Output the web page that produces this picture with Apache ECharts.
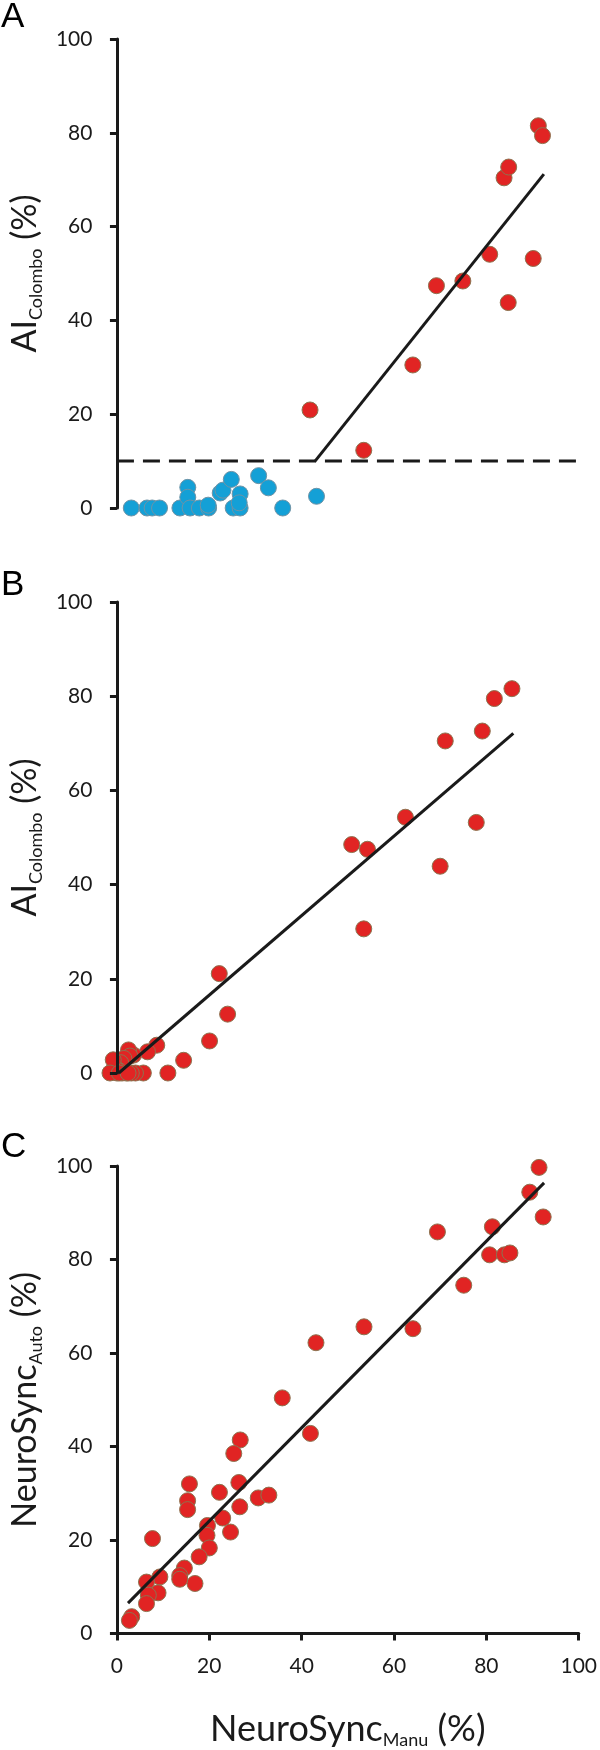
<!DOCTYPE html>
<html>
<head>
<meta charset="utf-8">
<script src="https://cdn.jsdelivr.net/npm/echarts@6/dist/echarts.min.js"></script>
<style>html,body{margin:0;padding:0;background:#fff}#c{width:600px;height:1750px}</style>
</head>
<body>
<div id="c"></div>
<script>
// ---- data ----
const panelLetters = ['A', 'B', 'C'];
const axisTicks = [0, 20, 40, 60, 80, 100];
// Panel A: NeuroSync_Manu (x) vs AI_Colombo (y)
const panelA_low = [[3.1,0],[6.5,0],[7.6,0],[9.2,0],[13.6,0],[15.3,4.4],[15.3,2.3],[15.8,0],[17.8,0],[19.8,0],[19.7,0.6],[22.3,3.2],[22.9,3.8],[24.7,6.1],[25.1,0],[26.6,0],[26.6,3.0],[26.4,1.1],[30.6,6.9],[32.7,4.3],[35.8,0],[43.1,2.5]];
const panelA_high = [[41.7,20.9],[53.3,12.3],[63.9,30.5],[69.0,47.4],[74.7,48.4],[80.5,54.1],[83.6,70.4],[84.6,72.7],[84.5,43.8],[89.9,53.2],[91.0,81.5],[91.9,79.4]];
const panelA_fit = [[42.7,9.9],[92.2,71.2]];
const panelA_threshold = [[0,10],[100,10]];
// Panel B
const panelB = [[85.3,81.6],[81.5,79.5],[78.9,72.6],[70.9,70.5],[62.3,54.3],[77.6,53.2],[50.7,48.5],[54.1,47.5],[69.8,43.9],[53.3,30.6],[22.1,21.1],[23.9,12.5],[20.0,6.8],[14.4,2.7],[11.0,0],[8.6,5.9],[6.6,4.5],[5.7,0],[4.0,0],[3.6,3.8],[2.5,4.9],[2.8,3.6],[3.1,0],[2.0,0],[1.5,3.1],[1.1,0],[0.8,2.2],[0.3,0.6],[0,0],[-0.5,1.2],[-0.8,2.8],[-1.5,0],[0.5,0],[2.4,0]];
const panelB_fit = [[0.4,0],[85.6,72.1]];
// Panel C: NeuroSync_Manu (x) vs NeuroSync_Auto (y)
const panelC = [[91.4,99.7],[89.4,94.4],[92.3,89.1],[69.4,85.9],[81.3,87.0],[80.7,81.0],[83.9,81.0],[85.1,81.4],[75.1,74.5],[53.5,65.6],[64.1,65.2],[43.1,62.2],[35.8,50.4],[41.9,42.8],[26.7,41.4],[25.3,38.5],[15.7,32.0],[26.4,32.3],[15.3,28.4],[15.3,26.5],[22.2,30.2],[30.6,29.0],[32.9,29.6],[26.6,27.1],[22.9,24.7],[24.6,21.7],[19.6,23.1],[19.5,21.0],[20.0,18.3],[17.8,16.4],[7.7,20.3],[16.9,10.7],[14.6,14.0],[13.6,12.4],[13.6,11.6],[9.3,12.1],[6.4,11.0],[8.9,8.7],[6.8,8.2],[6.4,6.4],[3.2,3.6],[2.7,2.8]];
const panelC_fit = [[2.4,6.5],[92.5,96.4]];

// ---- styling ----
const FONT = 'Lato, "Noto Sans", sans-serif';
const RED = '#E12423', BLUE = '#14A0D6', INK = '#1a1a1a';
const grids = [
  {left: 111.5, width: 468.5, top: 39, height: 469},
  {left: 111.5, width: 468.5, top: 602, height: 471},
  {left: 111.5, width: 468.5, top: 1166, height: 469}
];
function rich(main) {
  return {
    b: {fontSize: main, lineHeight: 40, fontFamily: FONT, color: '#1a1a1a'},
    s: {fontSize: 18, lineHeight: 18, fontFamily: FONT, color: '#1a1a1a', verticalAlign: 'bottom'}
  };
}
function yAxis(i, name) {
  return {
    type: 'value', gridIndex: i, min: axisTicks[0], max: axisTicks[axisTicks.length-1],
    interval: axisTicks[1]-axisTicks[0], offset: 7.5, z: 5,
    axisLine: {show: true, lineStyle: {color: INK, width: 3}},
    axisTick: {show: true, length: 7, lineStyle: {color: INK, width: 3}},
    splitLine: {show: false},
    axisLabel: {fontSize: 21, fontFamily: FONT, color: '#1a1a1a', margin: 17},
    name: name, nameLocation: 'middle', nameGap: 64,
    nameTextStyle: {rich: rich(34)}
  };
}
function xAxis(i, show) {
  const a = {
    type: 'value', gridIndex: i, min: axisTicks[0], max: axisTicks[axisTicks.length-1],
    interval: axisTicks[1]-axisTicks[0], show: show, offset: 7.5, z: 5,
    axisLine: {show: true, lineStyle: {color: INK, width: 3}},
    axisTick: {show: true, length: 7, lineStyle: {color: INK, width: 3}},
    splitLine: {show: false},
    axisLabel: {fontSize: 21, fontFamily: FONT, color: '#1a1a1a', margin: 15}
  };
  if (show) {
    a.name = '{b|NeuroSync}{s|Manu}{b| (%)}';
    a.nameLocation = 'middle';
    a.nameGap = 68;
    a.nameTextStyle = {rich: rich(36)};
  }
  return a;
}
function scatter(i, data, color, border) {
  return {type: 'scatter', xAxisIndex: i, yAxisIndex: i, data: data, symbol: 'circle', symbolSize: 16,
    clip: false, z: 2,
    itemStyle: {color: color, borderColor: border, borderWidth: 1, opacity: 1}};
}
function line(i, data, dashed) {
  return {type: 'line', xAxisIndex: i, yAxisIndex: i, data: data, symbol: 'none', z: 3, clip: false,
    lineStyle: {color: INK, width: 3, type: dashed ? [17, 9] : 'solid'}};
}
const letterTops = [0, 568, 1130];
const option = {
  animation: false,
  backgroundColor: '#fff',
  grid: grids,
  xAxis: [xAxis(0, false), xAxis(1, false), xAxis(2, true)],
  yAxis: [yAxis(0, '{b|AI}{s|Colombo}{b| (%)}'), yAxis(1, '{b|AI}{s|Colombo}{b| (%)}'), yAxis(2, '{b|NeuroSync}{s|Auto}{b| (%)}')],
  series: [
    scatter(0, panelA_low, BLUE, '#6f93a6'),
    scatter(0, panelA_high, RED, '#8d7350'),
    line(0, panelA_threshold, true),
    line(0, panelA_fit, false),
    scatter(1, panelB, RED, '#8d7350'),
    line(1, panelB_fit, false),
    scatter(2, panelC, RED, '#8d7350'),
    line(2, panelC_fit, false)
  ],
  graphic: panelLetters.map((t, k) => ({
    type: 'text', left: 1, top: letterTops[k],
    style: {text: t, font: '35px "Liberation Sans", Arial, sans-serif', fill: '#000'}
  }))
};
const chart = echarts.init(document.getElementById('c'), null, {renderer: 'canvas'});
chart.setOption(option);
</script>
</body>
</html>
